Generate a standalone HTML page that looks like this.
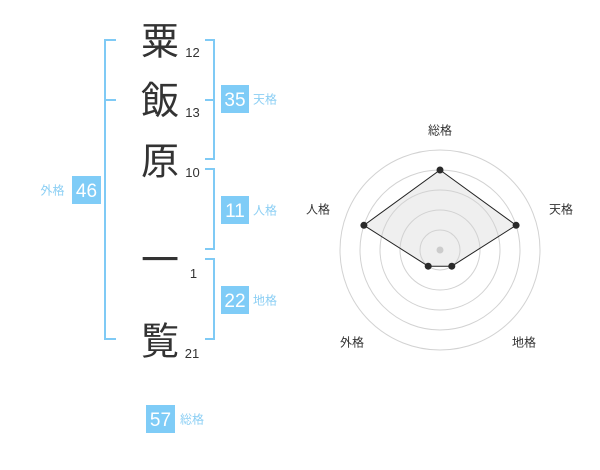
<!DOCTYPE html>
<html>
<head>
<meta charset="utf-8">
<style>
  html, body { margin: 0; padding: 0; background: #ffffff; }
  body { width: 600px; height: 470px; overflow: hidden; }
  svg { display: block; }
  .k { font-family: "Liberation Sans", "Noto Sans CJK JP", sans-serif; font-size: 38px; fill: #333333; text-anchor: middle; }
  .n { font-family: "Liberation Sans", sans-serif; font-size: 13px; fill: #333333; text-anchor: middle; }
  .b { font-family: "Liberation Sans", sans-serif; font-size: 19px; fill: #ffffff; text-anchor: middle; }
  .l { font-family: "Liberation Sans", "Noto Sans CJK JP", sans-serif; font-size: 12px; fill: #8ccff4; }
  .r { font-family: "Liberation Sans", "Noto Sans CJK JP", sans-serif; font-size: 12px; fill: #333333; text-anchor: middle; }
</style>
</head>
<body>
<svg width="600" height="470" viewBox="0 0 600 470" xmlns="http://www.w3.org/2000/svg">
  <!-- brackets -->
  <g stroke="#7fcaf5" stroke-width="2" fill="none">
    <!-- left bracket -->
    <polyline points="116,40 105,40 105,339 116,339"/>
    <line x1="105" y1="100" x2="116" y2="100"/>
    <!-- right bracket 1 (天格) -->
    <polyline points="205,40 214,40 214,159 205,159"/>
    <line x1="205" y1="100" x2="214" y2="100"/>
    <!-- right bracket 2 (人格) -->
    <polyline points="205,169 214,169 214,249 205,249"/>
    <!-- right bracket 3 (地格) -->
    <polyline points="205,259 214,259 214,339 205,339"/>
  </g>

  <!-- kanji -->
  <text class="k" x="160" y="54.5">粟</text>
  <text class="k" x="160" y="114">飯</text>
  <text class="k" x="160" y="174.5">原</text>
  <text class="k" x="160" y="273.5">一</text>
  <text class="k" x="160" y="354.5">覧</text>

  <!-- stroke counts -->
  <text class="n" x="192.5" y="57">12</text>
  <text class="n" x="192.5" y="117">13</text>
  <text class="n" x="192.5" y="177">10</text>
  <text class="n" x="193.5" y="278">1</text>
  <text class="n" x="192" y="358">21</text>

  <!-- boxes -->
  <g fill="#7fccf7">
    <rect x="221" y="85" width="28" height="28"/>
    <rect x="221" y="196" width="28" height="28"/>
    <rect x="221" y="286" width="28" height="28"/>
    <rect x="72" y="176" width="29" height="28"/>
    <rect x="146" y="405" width="29" height="28"/>
  </g>
  <text class="b" x="235" y="105.8">35</text>
  <text class="b" x="235" y="216.8">11</text>
  <text class="b" x="235" y="306.8">22</text>
  <text class="b" x="86.5" y="196.8">46</text>
  <text class="b" x="160.5" y="425.8">57</text>

  <!-- box labels -->
  <text class="l" x="253" y="103.6">天格</text>
  <text class="l" x="253" y="214.6">人格</text>
  <text class="l" x="253" y="304.6">地格</text>
  <text class="l" x="40.5" y="194.6">外格</text>
  <text class="l" x="180" y="423.6">総格</text>

  <!-- radar chart -->
  <polygon points="440,170 516.1,225.3 451.8,266.2 428.2,266.2 363.9,225.3" fill="#efefef" stroke="none"/>
  <g fill="none" stroke="#d2d2d2" stroke-width="1">
    <circle cx="440" cy="250" r="20"/>
    <circle cx="440" cy="250" r="40"/>
    <circle cx="440" cy="250" r="60"/>
    <circle cx="440" cy="250" r="80"/>
    <circle cx="440" cy="250" r="100"/>
  </g>
  <polygon points="440,170 516.1,225.3 451.8,266.2 428.2,266.2 363.9,225.3" fill="none" stroke="#222222" stroke-width="1"/>
  <circle cx="440" cy="250" r="3.5" fill="#cccccc"/>
  <g fill="#2a2a2a">
    <circle cx="440" cy="170" r="3.5"/>
    <circle cx="516.1" cy="225.3" r="3.5"/>
    <circle cx="451.8" cy="266.2" r="3.5"/>
    <circle cx="428.2" cy="266.2" r="3.5"/>
    <circle cx="363.9" cy="225.3" r="3.5"/>
  </g>
  <text class="r" x="440" y="134.6">総格</text>
  <text class="r" x="561" y="213.3">天格</text>
  <text class="r" x="318" y="213.3">人格</text>
  <text class="r" x="352" y="346.6">外格</text>
  <text class="r" x="524" y="346.6">地格</text>
</svg>
</body>
</html>
